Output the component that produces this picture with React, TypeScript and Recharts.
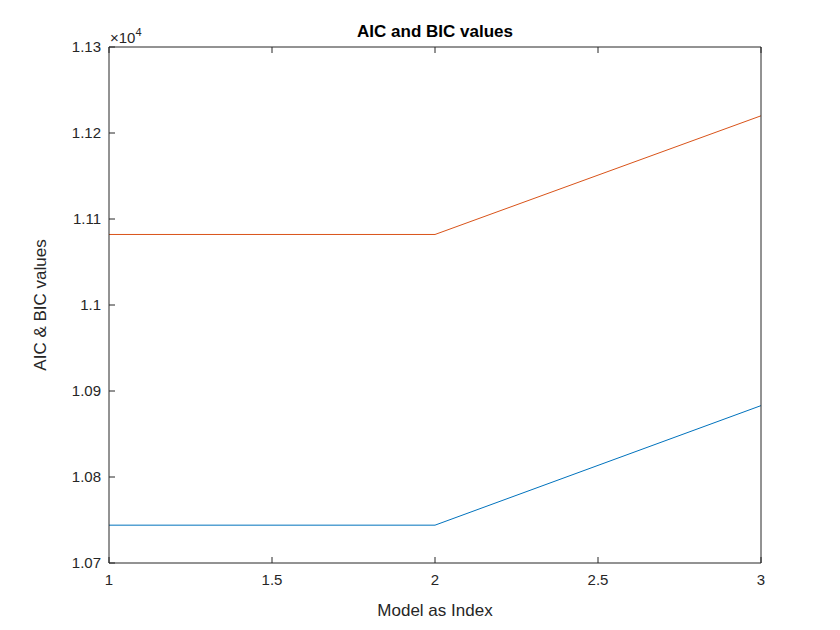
import React from 'react';
import { LineChart, Line, XAxis, YAxis } from 'recharts';

const models = [1, 2, 3];
const aicValues = [10744, 10744, 10883];
const bicValues = [11082, 11082, 11220];
const xTicks = [1, 1.5, 2, 2.5, 3];
const yTicks = [10700, 10800, 10900, 11000, 11100, 11200, 11300];

const data = models.map((m, i) => ({ model: m, aic: aicValues[i], bic: bicValues[i] }));
const font = 'Liberation Sans, Arial, sans-serif';
const axisColor = '#262626';
const GAP = 14;

const BottomTick = (p: any) => {
  const ay = p.y - GAP;
  return (
    <g>
      <line x1={p.x} x2={p.x} y1={ay} y2={ay - 6} stroke={axisColor} />
      <text x={p.x} y={ay + 22} textAnchor="middle" fontSize={15} fill={axisColor} fontFamily={font}>{String(p.payload.value)}</text>
    </g>
  );
};
const LeftTick = (p: any) => {
  const ax = p.x + GAP;
  return (
    <g>
      <line x1={ax} x2={ax + 6} y1={p.y} y2={p.y} stroke={axisColor} />
      <text x={ax - 8} y={p.y + 5} textAnchor="end" fontSize={15} fill={axisColor} fontFamily={font}>{String(Number((p.payload.value / 10000).toFixed(3)))}</text>
    </g>
  );
};
const TopTick = (p: any) => <line x1={p.x} x2={p.x} y1={p.y} y2={p.y + 6} stroke={axisColor} />;
const RightTick = (p: any) => <line x1={p.x} x2={p.x - 6} y1={p.y} y2={p.y} stroke={axisColor} />;

const App: React.FC = () => (
  <div style={{ position: 'fixed', left: 0, top: 0, width: 840, height: 630, background: '#fff', fontFamily: font }}>
    <LineChart width={840} height={630} data={data} margin={{ top: 46, right: 78, left: 49, bottom: 37 }}>
      <XAxis xAxisId="b" dataKey="model" type="number" domain={[1, 3]} ticks={xTicks}
        height={30} stroke={axisColor} tickSize={0} tickMargin={GAP} tickLine={false} tick={<BottomTick />} />
      <XAxis xAxisId="t" dataKey="model" type="number" domain={[1, 3]} ticks={xTicks}
        orientation="top" height={1} stroke={axisColor} tickSize={0} tickMargin={0} tickLine={false} tick={<TopTick />} />
      <YAxis yAxisId="l" type="number" domain={[10700, 11300]} ticks={yTicks} width={60}
        stroke={axisColor} tickSize={0} tickMargin={GAP} tickLine={false} tick={<LeftTick />} />
      <YAxis yAxisId="r" type="number" domain={[10700, 11300]} ticks={yTicks} width={1}
        orientation="right" stroke={axisColor} tickSize={0} tickMargin={0} tickLine={false} tick={<RightTick />} />
      <Line xAxisId="b" yAxisId="l" dataKey="aic" stroke="#0072BD" strokeWidth={1} dot={false} isAnimationActive={false} />
      <Line xAxisId="b" yAxisId="l" dataKey="bic" stroke="#D95319" strokeWidth={1} dot={false} isAnimationActive={false} />
      <text x={435} y={37} textAnchor="middle" fontSize={17} fontWeight="bold" fill="#000" fontFamily={font}>AIC and BIC values</text>
      <text x={110} y={43} fontSize={15} fill={axisColor} fontFamily={font}>×10<tspan dy={-7} fontSize={11}>4</tspan></text>
      <text x={435} y={616} textAnchor="middle" fontSize={17} fill={axisColor} fontFamily={font}>Model as Index</text>
      <text x={46} y={305} textAnchor="middle" fontSize={17} fill={axisColor} fontFamily={font} transform="rotate(-90 46 305)">AIC &amp; BIC values</text>
    </LineChart>
  </div>
);

export default App;
